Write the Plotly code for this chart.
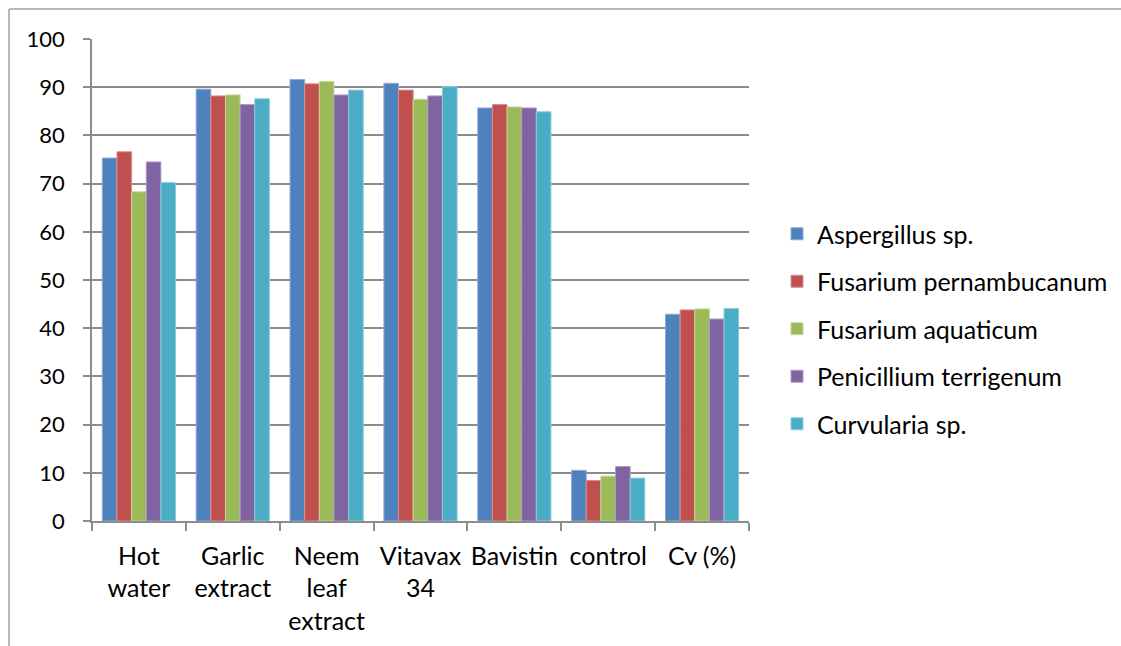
import plotly.graph_objects as go

# Treatments along the category axis (multi-line labels)
categories = ["Hot<br>water", "Garlic<br>extract", "Neem<br>leaf<br>extract",
              "Vitavax<br>34", "Bavistin", "control", "Cv (%)"]

# Values per fungus for each treatment
aspergillus = [75.3, 89.6, 91.6, 90.8, 85.7, 10.5, 42.9]
fusarium_pern = [76.6, 88.2, 90.7, 89.4, 86.4, 8.4, 43.8]
fusarium_aqua = [68.3, 88.4, 91.2, 87.5, 85.9, 9.3, 44.0]
penicillium = [74.5, 86.4, 88.4, 88.2, 85.7, 11.3, 41.9]
curvularia = [70.2, 87.6, 89.4, 90.1, 84.9, 8.9, 44.1]

series_names = ["Aspergillus sp.", "Fusarium pernambucanum", "Fusarium aquaticum",
                "Penicillium terrigenum", "Curvularia sp."]
series_values = [aspergillus, fusarium_pern, fusarium_aqua, penicillium, curvularia]
colors = ["#4F81BD", "#C0504D", "#9BBB59", "#8064A2", "#4BACC6"]
edge_colors = ["#8EAAD4", "#D98E8C", "#C3D79D", "#AE9BC6", "#8DCCDC"]

FONT = "Lato"
W, H = 1121, 646
L, R, T, B = 92, 372, 39, 125
pw, ph = W - L - R, H - T - B

fig = go.Figure()
for i, (name, vals) in enumerate(zip(series_names, series_values)):
    fig.add_trace(go.Bar(
        x=categories, y=vals, name=name,
        marker=dict(color=colors[i], line=dict(color=edge_colors[i], width=1)),
        legendgroup=f"g{i}",
    ))

grid_col = "#8C8C8C"

# outer frame of the chart area
def px_x(p):
    return (p - L) / pw

def px_y(p):
    return (H - B - p) / ph

frame = dict(type="line", xref="paper", yref="paper",
             line=dict(color="#A0A0A0", width=1.5), layer="above")
fig.add_shape(**frame, x0=px_x(9), x1=px_x(9), y0=px_y(9), y1=px_y(H + 5))
fig.add_shape(**frame, x0=px_x(9), x1=px_x(W + 5), y0=px_y(9), y1=px_y(9))

fig.update_layout(
    width=W, height=H,
    margin=dict(l=L, r=R, t=T, b=B, autoexpand=False),
    paper_bgcolor="white", plot_bgcolor="white",
    barmode="group", bargap=0.22, bargroupgap=0,
    font=dict(family=FONT, size=25, color="#000000"),
    showlegend=True,
    legend=dict(
        x=px_x(777), xanchor="left",
        y=px_y(329), yanchor="middle",
        font=dict(family=FONT, size=25, color="#000000"),
        traceorder="grouped", tracegroupgap=12,
        bgcolor="rgba(0,0,0,0)",
    ),
    xaxis=dict(
        showline=True, linecolor=grid_col, linewidth=1.5,
        ticks="outside", ticklen=8, tickcolor=grid_col, tickwidth=1.5,
        tickson="boundaries", showgrid=False,
        tickangle=0, automargin=False,
        ticklabelstandoff=12,
        tickfont=dict(family=FONT, size=25),
        fixedrange=True,
    ),
    yaxis=dict(
        range=[0, 100], dtick=10, tick0=0,
        showline=True, linecolor=grid_col, linewidth=1.5,
        showgrid=True, gridcolor=grid_col, gridwidth=1.5,
        ticks="outside", ticklen=7, tickcolor=grid_col, tickwidth=1.5,
        ticklabelstandoff=14, automargin=False,
        tickfont=dict(family=FONT, size=22),
        zeroline=False,
    ),
)

fig.write_html("out.html")
